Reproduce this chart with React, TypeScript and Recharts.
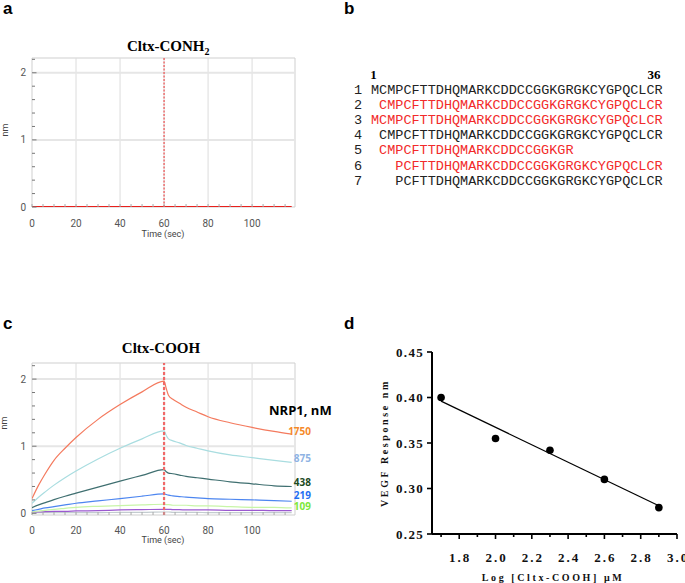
import {
  LineChart,
  Line,
  XAxis,
  YAxis,
  ReferenceLine,
  ReferenceArea,
  ComposedChart,
  Scatter,
} from "recharts";

// panel a: Cltx-CONH2, flat response
const TIMES_A = [0, 30, 60, 90, 118];
const CONH2_NM = [0, 0, 0, 0, 0];

// panel c: Cltx-COOH binding curves per NRP1 concentration
const TIMES_C = [0, 3, 6, 10, 15, 20, 30, 40, 50, 60, 61, 62, 64, 67, 70, 75, 80, 90, 100, 110, 118];
const NRP1_1750 = [0.22, 0.42, 0.59, 0.79, 0.97, 1.13, 1.4, 1.62, 1.81, 1.97, 1.86, 1.76, 1.7, 1.64, 1.58, 1.51, 1.44, 1.35, 1.28, 1.22, 1.18];
const NRP1_875 = [0.15, 0.24, 0.32, 0.42, 0.53, 0.63, 0.81, 0.97, 1.11, 1.23, 1.16, 1.11, 1.08, 1.05, 1.01, 0.97, 0.93, 0.87, 0.83, 0.79, 0.76];
const NRP1_438 = [0.085, 0.125, 0.16, 0.205, 0.255, 0.3, 0.39, 0.48, 0.565, 0.65, 0.62, 0.6, 0.59, 0.57, 0.55, 0.53, 0.51, 0.47, 0.44, 0.41, 0.4];
const NRP1_219 = [0.04, 0.06, 0.08, 0.1, 0.125, 0.15, 0.185, 0.22, 0.255, 0.29, 0.28, 0.27, 0.26, 0.25, 0.24, 0.23, 0.22, 0.21, 0.2, 0.19, 0.18];
const NRP1_109 = [0.02, 0.035, 0.045, 0.06, 0.075, 0.09, 0.105, 0.115, 0.125, 0.135, 0.13, 0.13, 0.12, 0.12, 0.12, 0.11, 0.11, 0.1, 0.09, 0.09, 0.08];
const NRP1_LOW = [0.02, 0.02, 0.025, 0.03, 0.03, 0.035, 0.04, 0.05, 0.055, 0.06, 0.06, 0.06, 0.055, 0.055, 0.05, 0.05, 0.05, 0.045, 0.045, 0.04, 0.04];
const NRP1_BASE = [0.01, 0.01, 0.01, 0.01, 0.01, 0.01, 0.01, 0.015, 0.015, 0.02, 0.02, 0.02, 0.015, 0.015, 0.015, 0.015, 0.01, 0.01, 0.01, 0.01, 0.01];

const CONC_LABELS = ["1750", "875", "438", "219", "109"];
const CONC_LABEL_COLORS = ["#f5892a", "#8fb3e3", "#1b4a1f", "#1f6ff2", "#7de83a"];

// panel d: VEGF response vs log concentration
const LOG_CONC = [1.7, 2.0, 2.3, 2.6, 2.9];
const VEGF_RESPONSE = [0.4, 0.355, 0.342, 0.31, 0.279];
const FIT_X = [1.7, 2.9];
const FIT_Y = [0.396, 0.281];

const KIN_X_TICKS = [0, 5, 10, 15, 20, 25, 30, 35, 40, 45, 50, 55, 60, 65, 70, 75, 80, 85, 90, 95, 100, 105, 110, 115];
const KIN_Y_TICKS = [0, 0.2, 0.4, 0.6, 0.8, 1, 1.2, 1.4, 1.6, 1.8, 2, 2.2];
const GRID_X = [20, 40, 60, 80, 100];
const GRID_Y = [1, 2];
const D_X_TICKS = [1.7, 1.8, 1.9, 2.0, 2.1, 2.2, 2.3, 2.4, 2.5, 2.6, 2.7, 2.8, 2.9, 3.0];
const D_Y_TICKS = [0.25, 0.3, 0.35, 0.4, 0.45];

// panel b: peptide sequences
const SEQ_NUMBERS = ["1", "2", "3", "4", "5", "6", "7"];
const SEQ_OFFSETS = [0, 1, 0, 1, 1, 3, 3];
const SEQUENCES = [
  "MCMPCFTTDHQMARKCDDCCGGKGRGKCYGPQCLCR",
  "CMPCFTTDHQMARKCDDCCGGKGRGKCYGPQCLCR",
  "MCMPCFTTDHQMARKCDDCCGGKGRGKCYGPQCLCR",
  "CMPCFTTDHQMARKCDDCCGGKGRGKCYGPQCLCR",
  "CMPCFTTDHQMARKCDDCCGGKGR",
  "PCFTTDHQMARKCDDCCGGKGRGKCYGPQCLCR",
  "PCFTTDHQMARKCDDCCGGKGRGKCYGPQCLCR",
];
const SEQ_RED = [false, true, true, false, true, true, false];

const sans = "Roboto, 'Liberation Sans', sans-serif";
const serif = "'Liberation Serif', 'DejaVu Serif', serif";
const mono = "'Liberation Mono', 'DejaVu Sans Mono', monospace";
const calibri = "'Open Sans', 'Liberation Sans', sans-serif";

const dataA = TIMES_A.map((t, i) => ({ t, v: CONH2_NM[i] }));
const dataC = TIMES_C.map((t, i) => ({
  t,
  c1750: NRP1_1750[i],
  c875: NRP1_875[i],
  c438: NRP1_438[i],
  c219: NRP1_219[i],
  c109: NRP1_109[i],
  low: NRP1_LOW[i],
  base: NRP1_BASE[i],
}));
const points = LOG_CONC.map((x, i) => ({ x, y: VEGF_RESPONSE[i] }));
const fit = FIT_X.map((x, i) => ({ x, y: FIT_Y[i] }));

const makeKinXTick = (dy: number) => (props: any) => {
  const { x, y, payload } = props;
  const v = payload.value;
  return (
    <g>
      <line x1={x} y1={y} x2={x} y2={y - 3} stroke="#aaa" />
      {v % 20 === 0 && (
        <text x={x} y={y + dy} textAnchor="middle" fontSize={10} fill="#555" fontFamily={sans}>
          {v}
        </text>
      )}
    </g>
  );
};

const KinYTick = (props: any) => {
  const { x, y, payload } = props;
  const v = payload.value;
  const major = Number.isInteger(v);
  return (
    <g>
      <line x1={x} y1={y} x2={x + (major ? 4.5 : 3)} y2={y} stroke="#777" />
      {major && (
        <text x={x - 6} y={y + 3.5} textAnchor="end" fontSize={10} fill="#555" fontFamily={sans}>
          {v}
        </text>
      )}
    </g>
  );
};

const DXTick = (props: any) => {
  const { x, y, payload } = props;
  const v = payload.value;
  const major = Math.round(v * 10) % 2 === 0;
  return (
    <g>
      <line x1={x} y1={y} x2={x} y2={y + (major ? 5 : 3)} stroke="#000" strokeWidth={1.6} />
      {major && (
        <text x={x + 1} y={y + 28} textAnchor="middle" fontSize={13} fontWeight="bold" letterSpacing={2} fill="#111" fontFamily={serif}>
          {v.toFixed(1)}
        </text>
      )}
    </g>
  );
};

const DYTick = (props: any) => {
  const { x, y, payload } = props;
  const v = payload.value;
  return (
    <g>
      <line x1={x} y1={y} x2={x - 5} y2={y} stroke="#000" strokeWidth={1.6} />
      <text x={x - 8} y={y + 4.5} textAnchor="end" fontSize={13} fontWeight="bold" letterSpacing={1.3} fill="#111" fontFamily={serif}>
        {v.toFixed(2)}
      </text>
    </g>
  );
};

function KinFrame(yMin: number, yMax: number) {
  return [
    ...GRID_X.map((g) => <ReferenceLine key={"gx" + g} x={g} stroke="#dcdcdc" />),
    ...GRID_Y.map((g) => <ReferenceLine key={"gy" + g} y={g} stroke="#e6e6e6" strokeWidth={2} />),
    <ReferenceArea key="frame" x1={0} x2={119.5} y1={yMin} y2={yMax} fill="none" stroke="#cfcfcf" />,
  ];
}

export default function App() {
  return (
    <div style={{ position: "fixed", left: 0, top: 0, width: 685, height: 583, background: "#fff" }}>
      <div style={{ position: "absolute", left: 0, top: 0 }}>
        <LineChart width={330} height={250} data={dataA} margin={{ top: 58, right: 35, left: 0, bottom: 0 }}>
          <XAxis type="number" dataKey="t" domain={[0, 119.5]} allowDataOverflow ticks={KIN_X_TICKS} interval={0}
            height={43} axisLine={false} tickLine={false} tickSize={0} tickMargin={0} tick={makeKinXTick(20)} />
          <YAxis type="number" domain={[0, 2.22]} allowDataOverflow ticks={KIN_Y_TICKS} interval={0}
            width={32} axisLine={false} tickLine={false} tickSize={0} tickMargin={0} tick={KinYTick} />
          {KinFrame(0, 2.22)}
          <ReferenceLine x={60} stroke="#ee3030" strokeDasharray="2 1.5" />
          <Line type="linear" dataKey="v" stroke="#e8201c" strokeWidth={2} dot={false} isAnimationActive={false} />
        </LineChart>
      </div>

      <div style={{ position: "absolute", left: 0, top: 300 }}>
        <LineChart width={330} height={250} data={dataC} margin={{ top: 63, right: 35, left: 0, bottom: 0 }}>
          <XAxis type="number" dataKey="t" domain={[0, 119.5]} allowDataOverflow ticks={KIN_X_TICKS} interval={0}
            height={35} axisLine={false} tickLine={false} tickSize={0} tickMargin={0} tick={makeKinXTick(19)} />
          <YAxis type="number" domain={[-0.025, 2.24]} allowDataOverflow ticks={KIN_Y_TICKS} interval={0}
            width={32} axisLine={false} tickLine={false} tickSize={0} tickMargin={0} tick={KinYTick} />
          {KinFrame(-0.025, 2.24)}
          <Line type="monotone" dataKey="base" stroke="#c3ccd0" strokeWidth={1.2} dot={false} isAnimationActive={false} />
          <Line type="monotone" dataKey="low" stroke="#9b59d0" strokeWidth={1.2} dot={false} isAnimationActive={false} />
          <Line type="monotone" dataKey="c109" stroke="#c8f5a8" strokeWidth={1.2} dot={false} isAnimationActive={false} />
          <Line type="monotone" dataKey="c219" stroke="#4d86f0" strokeWidth={1.2} dot={false} isAnimationActive={false} />
          <Line type="monotone" dataKey="c438" stroke="#3f6f70" strokeWidth={1.2} dot={false} isAnimationActive={false} />
          <Line type="monotone" dataKey="c875" stroke="#a9dde0" strokeWidth={1.2} dot={false} isAnimationActive={false} />
          <Line type="monotone" dataKey="c1750" stroke="#f47a5e" strokeWidth={1.2} dot={false} isAnimationActive={false} />
          <ReferenceLine x={60} stroke="#f06868" strokeWidth={2.2} strokeDasharray="3 2" />
        </LineChart>
      </div>

      <div style={{ position: "absolute", left: 340, top: 300 }}>
        <ComposedChart width={345} height={283} margin={{ top: 52, right: 8, left: 0, bottom: 0 }}>
          <XAxis type="number" dataKey="x" domain={[1.65, 3]} allowDataOverflow ticks={D_X_TICKS} interval={0}
            height={49} axisLine={{ stroke: "#000", strokeWidth: 2 }} tickLine={false} tickSize={0} tickMargin={0} tick={DXTick} />
          <YAxis type="number" dataKey="y" domain={[0.25, 0.45]} allowDataOverflow ticks={D_Y_TICKS} interval={0}
            width={92} axisLine={{ stroke: "#000", strokeWidth: 2 }} tickLine={false} tickSize={0} tickMargin={0} tick={DYTick} />
          <Line data={fit} type="linear" dataKey="y" stroke="#000" strokeWidth={1.2} dot={false} isAnimationActive={false} />
          <Scatter data={points} dataKey="y" isAnimationActive={false}
            shape={(p: any) => <circle cx={p.cx} cy={p.cy} r={3.8} fill="#000" />} />
        </ComposedChart>
      </div>

      <svg width={685} height={583} style={{ position: "absolute", left: 0, top: 0, pointerEvents: "none" }}>
        <g fontFamily="'Liberation Sans', Arial, sans-serif" fontWeight="bold" fontSize={17} fill="#000">
          <text x={3} y={13.5}>a</text>
          <text x={344} y={13.5}>b</text>
          <text x={3} y={328.5}>c</text>
          <text x={344} y={328.5}>d</text>
        </g>

        <text x={127} y={50.7} fontFamily={serif} fontWeight="bold" fontSize={15} fill="#000">
          Cltx-CONH<tspan fontSize={10} dy={4}>2</tspan>
        </text>
        <text x={161} y={353.3} textAnchor="middle" fontFamily={serif} fontWeight="bold" fontSize={15} fill="#000">
          Cltx-COOH
        </text>

        <text x={163} y={236.5} textAnchor="middle" fontFamily={sans} fontSize={9} fill="#444">Time (sec)</text>
        <text x={163} y={543.3} textAnchor="middle" fontFamily={sans} fontSize={9} fill="#444">Time (sec)</text>
        <text transform="translate(8,130) rotate(-90)" textAnchor="middle" fontFamily={sans} fontSize={9} fill="#444">nm</text>
        <text transform="translate(7,423) rotate(-90)" textAnchor="middle" fontFamily={sans} fontSize={9} fill="#444">nm</text>

        <text x={269} y={414.5} fontFamily={calibri} fontWeight="bold" fontSize={13} fill="#000">
          NRP1, nM
        </text>
        {CONC_LABELS.map((c, i) => (
          <text key={c} x={311} y={[435, 462, 486, 498.5, 510][i]} textAnchor="end"
            fontFamily={calibri} fontWeight="bold" fontSize={10} fill={CONC_LABEL_COLORS[i]}>
            {c}
          </text>
        ))}

        <text x={373.5} y={79} textAnchor="middle" fontFamily={serif} fontWeight="bold" fontSize={13}>1</text>
        <text x={654} y={79} textAnchor="middle" fontFamily={serif} fontWeight="bold" fontSize={13}>36</text>
        {SEQUENCES.map((s, i) => (
          <g key={i} fontFamily={mono} fontSize={13.5}>
            <text x={358} y={93.5 + i * 15.2} textAnchor="middle" fill="#222">{SEQ_NUMBERS[i]}</text>
            <text x={371 + SEQ_OFFSETS[i] * 8.1} y={93.5 + i * 15.2} fill={SEQ_RED[i] ? "#f22a2a" : "#222"}>{s}</text>
          </g>
        ))}

        <text transform="translate(388,443) rotate(-90)" textAnchor="middle" fontFamily={serif} fontWeight="bold" fontSize={10} letterSpacing={2.6} fill="#111">
          VEGF Response nm
        </text>
        <text x={553} y={580.5} textAnchor="middle" fontFamily={serif} fontWeight="bold" fontSize={10} letterSpacing={2.6} fill="#111">
          Log [Cltx-COOH] μM
        </text>
      </svg>
    </div>
  );
}
